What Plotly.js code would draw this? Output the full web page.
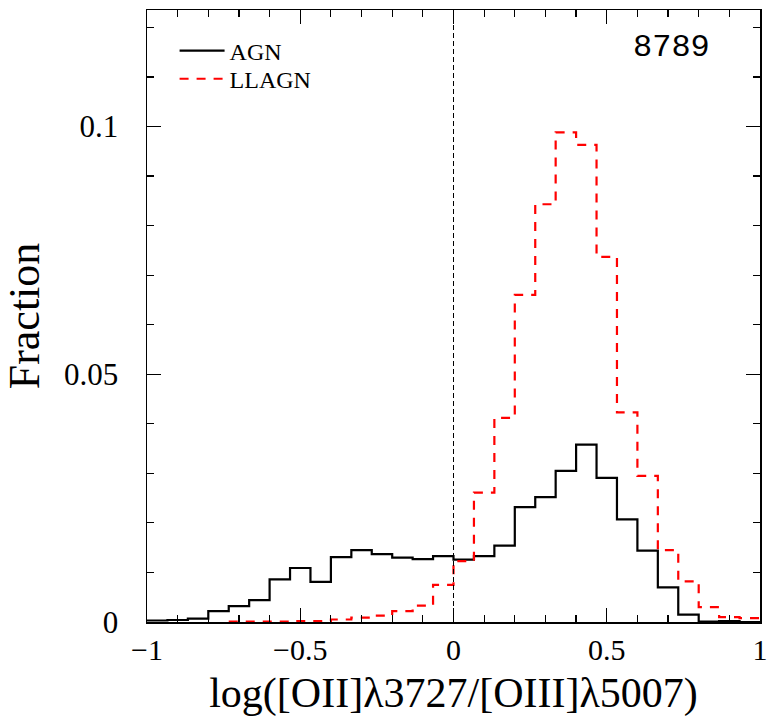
<!DOCTYPE html>
<html>
<head>
<meta charset="utf-8">
<script src="https://cdn.plot.ly/plotly-3.0.1.min.js"></script>
<style>
  html, body { margin: 0; padding: 0; background: #fff; }
  #chart { width: 768px; height: 724px; }
</style>
</head>
<body>
<div id="chart"></div>
<script>
// Bin edges of the histogram (30 bins of width 1/15 from -1 to 1)
const binEdges = [
  -1.0, -0.9333, -0.8667, -0.8, -0.7333, -0.6667, -0.6, -0.5333, -0.4667, -0.4,
  -0.3333, -0.2667, -0.2, -0.1333, -0.0667, 0.0, 0.0667, 0.1333, 0.2, 0.2667,
  0.3333, 0.4, 0.4667, 0.5333, 0.6, 0.6667, 0.7333, 0.8, 0.8667, 0.9333, 1.0
];

// Fraction per bin, AGN (black solid)
const agnFraction = [
  0.0003, 0.0004, 0.0007, 0.0022, 0.0032, 0.0044, 0.0086, 0.0109, 0.0081, 0.0131,
  0.0145, 0.0137, 0.0130, 0.0127, 0.0133, 0.0126, 0.0133, 0.0154, 0.0232, 0.0252,
  0.0305, 0.0358, 0.0291, 0.0207, 0.0144, 0.0070, 0.0015, 0.0001, 0.0002, 0.0
];

// Fraction per bin, LLAGN (red dashed)
const llagnFraction = [
  null, null, null, null, 0.0001, 0.0001, 0.0001, 0.0002, 0.0002, 0.0005,
  0.0009, 0.0013, 0.0022, 0.0033, 0.0075, 0.0123, 0.0261, 0.0412, 0.0660, 0.0843,
  0.0988, 0.0963, 0.0737, 0.0423, 0.0295, 0.0145, 0.0082, 0.0030, 0.0010, 0.0008
];

const seriesNames = ["AGN", "LLAGN"];
const xTickVals = [-1, -0.5, 0, 0.5, 1];
const xTickText = ["\u22121", "\u22120.5", "0", "0.5", "1"];
const yTickVals = [0, 0.05, 0.1];
const yTickText = ["0", "0.05", "0.1"];
const referenceLineX = [0];
const sampleLabel = "8789";

// Build step ("hv") outline from bin edges and per-bin values
function stepXY(edges, vals) {
  const xs = [], ys = [];
  let last = -1;
  for (let i = 0; i < vals.length; i++) {
    if (vals[i] === null) continue;
    xs.push(edges[i]); ys.push(vals[i]);
    last = i;
  }
  xs.push(edges[last + 1]); ys.push(vals[last]);
  return {xs, ys};
}

const agn = stepXY(binEdges, agnFraction);
const llagn = stepXY(binEdges, llagnFraction);

const serif = "Liberation Serif, Times New Roman, serif";

const traces = [
  {
    type: "scatter", mode: "lines", name: seriesNames[0],
    x: agn.xs, y: agn.ys, legend: "legend",
    line: {shape: "hv", color: "#000000", width: 2.2},
    hoverinfo: "skip"
  },
  {
    type: "scatter", mode: "lines", name: seriesNames[1],
    x: llagn.xs, y: llagn.ys, legend: "legend2",
    line: {shape: "hv", color: "#ff0000", width: 2.2, dash: "9px,8px"},
    hoverinfo: "skip"
  }
];

const legendCommon = {
  xanchor: "left", yanchor: "middle",
  bgcolor: "rgba(0,0,0,0)", borderwidth: 0,
  font: {family: serif, size: 24, color: "#000"},
  itemwidth: 45
};

const layout = {
  width: 768, height: 724,
  margin: {l: 147, r: 8, t: 10, b: 102, pad: 0},
  paper_bgcolor: "#ffffff", plot_bgcolor: "#ffffff",
  showlegend: true,
  legend: Object.assign({x: 0.045, y: 0.933}, legendCommon),
  legend2: Object.assign({x: 0.045, y: 0.887}, legendCommon),
  xaxis: {
    range: [-1, 1], autorange: false,
    showgrid: false, zeroline: false,
    showline: true, linecolor: "#000", linewidth: 1.5, mirror: "allticks",
    ticks: "inside", ticklen: 14, tickwidth: 1.2, tickcolor: "#000",
    tickmode: "array", tickvals: xTickVals, ticktext: xTickText,
    tickfont: {family: serif, size: 30, color: "#000"},
    ticklabelstandoff: 0, ticklabeloverflow: "allow",
    minor: {dtick: 0.1, tick0: 0, ticklen: 7, tickwidth: 1.2, tickcolor: "#000", ticks: "inside", showgrid: false},
    title: {text: "log([OII]\u03bb3727/[OIII]\u03bb5007)", font: {family: serif, size: 42, color: "#000"}, standoff: 13}
  },
  yaxis: {
    range: [0, 0.1235], autorange: false,
    showgrid: false, zeroline: false,
    showline: true, linecolor: "#000", linewidth: 1.5, mirror: "allticks",
    ticks: "inside", ticklen: 14, tickwidth: 1.2, tickcolor: "#000",
    tickmode: "array", tickvals: yTickVals, ticktext: yTickText,
    tickfont: {family: serif, size: 31, color: "#000"},
    ticklabelstandoff: 21, ticklabeloverflow: "allow",
    minor: {dtick: 0.01, tick0: 0, ticklen: 7, tickwidth: 1.2, tickcolor: "#000", ticks: "inside", showgrid: false},
    title: {text: "Fraction", font: {family: serif, size: 44, color: "#000"}, standoff: 10}
  },
  shapes: referenceLineX.map(v => ({
    type: "line", xref: "x", yref: "paper", x0: v, x1: v, y0: 0, y1: 1,
    line: {color: "#000", width: 1, dash: "5px,3px"}, layer: "above"
  })),
  annotations: [
    {
      text: sampleLabel, xref: "paper", yref: "paper", x: 0.855, y: 0.938,
      xanchor: "center", yanchor: "middle", showarrow: false,
      font: {family: "Liberation Mono, Courier New, monospace", size: 32, color: "#000"}
    }
  ]
};

Plotly.newPlot("chart", traces, layout, {staticPlot: true, displayModeBar: false});
</script>
</body>
</html>
